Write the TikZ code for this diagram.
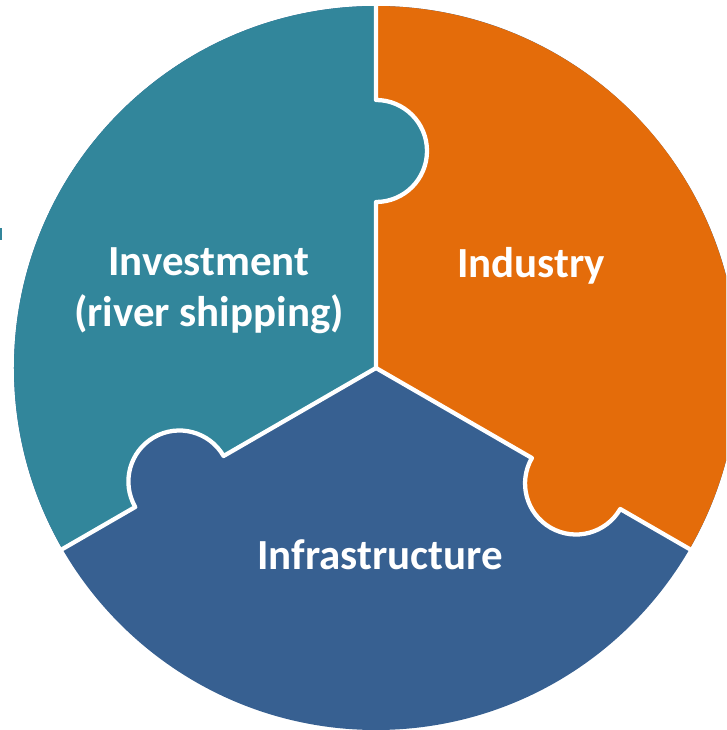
\documentclass[tikz,border=0pt]{standalone}
\usepackage{fontspec}
\setmainfont{Carlito}
\definecolor{tealc}{HTML}{32869B}
\definecolor{orangec}{HTML}{E46C0A}
\definecolor{bluec}{HTML}{376091}
\tikzset{
  gap/.style={draw=white, line width=3.2pt, line join=round},
  lbl/.style={text=white, font=\bfseries\fontsize{32.2}{38.5}\selectfont, align=center, inner sep=0pt}
}
\begin{document}
\begin{tikzpicture}[x=0.75pt,y=0.75pt]
\useasboundingbox (-376,368) rectangle (350,-362);
\clip (-376,368) rectangle (350,-362);
% knob centres
\coordinate (kt) at (0,217);
\coordinate (kl) at (210:227);
\coordinate (kr) at (330:231);
% pieces
\fill[bluec] (0,0) circle (362);
\fill[tealc] (0,0) -- (0,166) arc[start angle=-90,end angle=90,radius=51] -- (0,362)
  arc[start angle=90,end angle=210,radius=362] -- (210:278)
  arc[start angle=210,end angle=30,radius=51] -- cycle;
\fill[orangec] (0,0) -- (330:180) arc[start angle=150,end angle=330,radius=51] -- (330:362)
  arc[start angle=-30,end angle=90,radius=362] -- (0,268)
  arc[start angle=90,end angle=-90,radius=51] -- cycle;
% white seams
\draw[gap] (0,0) -- (0,166) arc[start angle=-90,end angle=90,radius=51] -- (0,370);
\draw[gap] (0,0) -- (210:176) arc[start angle=30,end angle=210,radius=51] -- (210:370);
\draw[gap] (0,0) -- (330:180) arc[start angle=150,end angle=330,radius=51] -- (330:370);
% small mark at left edge
\fill[tealc] (-376,140) rectangle (-374,128);
% labels
\node[lbl] (inv) at (-167,77.5) {Investment\\(river shipping)};
\node[lbl] (ind) at (155,102) {Industry};
\node[lbl] (inf) at (4,-187) {Infrastructure};
\end{tikzpicture}
\end{document}
